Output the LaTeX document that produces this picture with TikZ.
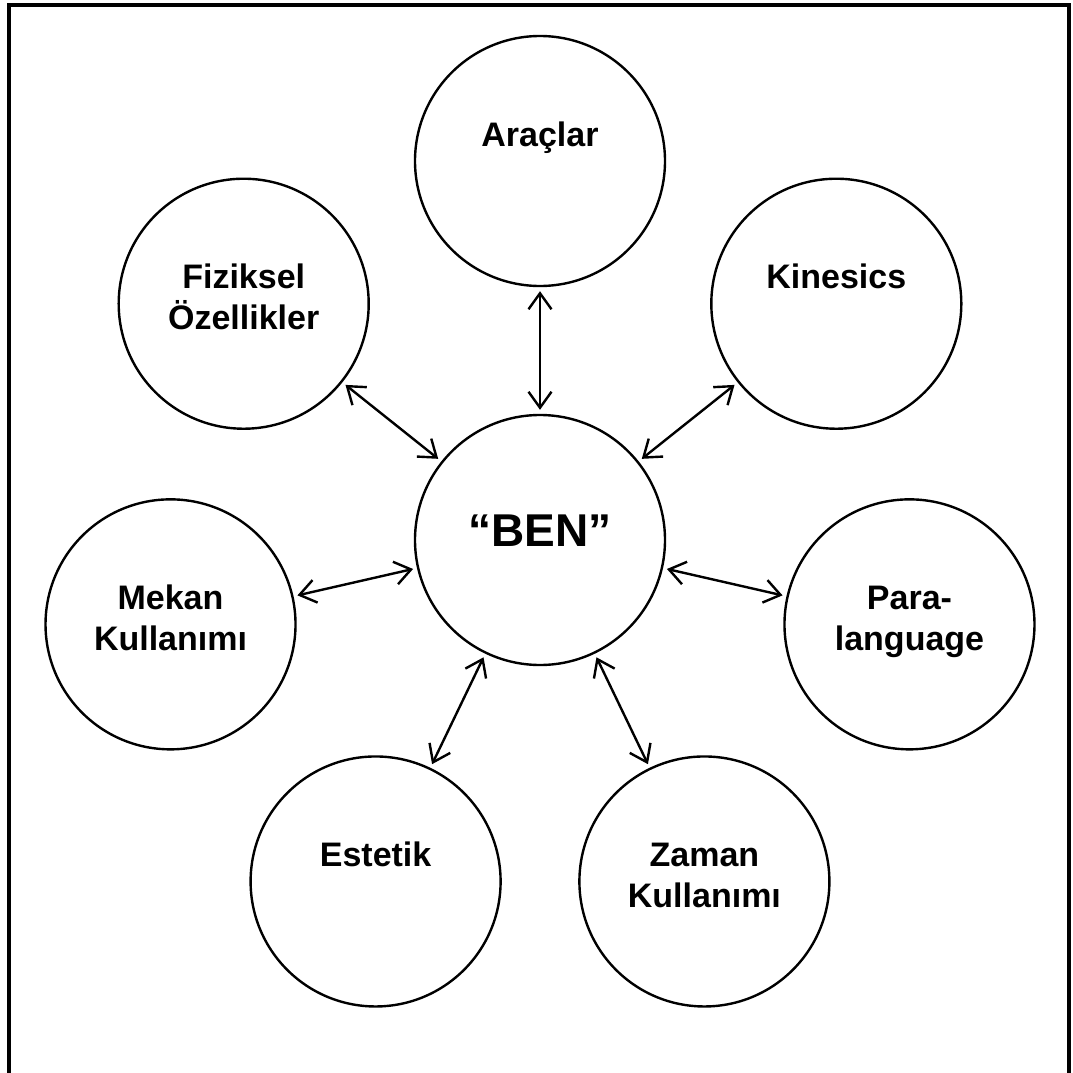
\documentclass[tikz,border=0pt]{standalone}
\usepackage{fontspec}
\setmainfont{Liberation Sans}
\usetikzlibrary{arrows.meta,calc}
\begin{document}
\begin{tikzpicture}[x=1pt,y=1pt,
  bub/.style={circle, draw, line width=2.4pt, minimum size=250pt, inner sep=0pt},
  lbl/.style={font=\bfseries\fontsize{34}{41}\selectfont, align=center, anchor=base, inner sep=0pt},
  link/.style={{Straight Barb[length=16pt,width=23pt]}-{Straight Barb[length=16pt,width=23pt]}, line width=2.4pt, shorten <=4pt, shorten >=4pt}]
\useasboundingbox (0,0) rectangle (1072,-1073);
\draw[line width=4pt] (9.3,-1085) -- (9.3,-5) -- (1069.3,-5) -- (1069.3,-1085);
\node[bub] (ben) at (540,-540) {};
\node[bub] (c1) at ($(ben)+(90:379pt)$) {};
\node[bub] (c2) at ($(ben)+(141.43:379pt)$) {};
\node[bub] (c3) at ($(ben)+(192.86:379pt)$) {};
\node[bub] (c4) at ($(ben)+(244.29:379pt)$) {};
\node[bub] (c5) at ($(ben)+(295.71:379pt)$) {};
\node[bub] (c6) at ($(ben)+(347.14:379pt)$) {};
\node[bub] (c7) at ($(ben)+(38.57:379pt)$) {};
\node[font=\bfseries\fontsize{46}{54}\selectfont, anchor=base, inner sep=0pt] (tben) at ($(ben)+(0,-6)$) {“BEN”};
\node[lbl] (t1) at ($(c1)+(0,15)$) {Araçlar};
\node[lbl] (t2) at ($(c2)+(0,-26)$) {Fiziksel\\Özellikler};
\node[lbl] (t3) at ($(c3)+(0,-26)$) {Mekan\\Kullanımı};
\node[lbl] (t4) at ($(c4)+(0,15)$) {Estetik};
\node[lbl] (t5) at ($(c5)+(0,-26)$) {Zaman\\Kullanımı};
\node[lbl] (t6) at ($(c6)+(0,-26)$) {Para-\\language};
\node[lbl] (t7) at ($(c7)+(0,15)$) {Kinesics};
\foreach \i in {1,...,7} {\draw[link] (ben) -- (c\i);}
\end{tikzpicture}
\end{document}
